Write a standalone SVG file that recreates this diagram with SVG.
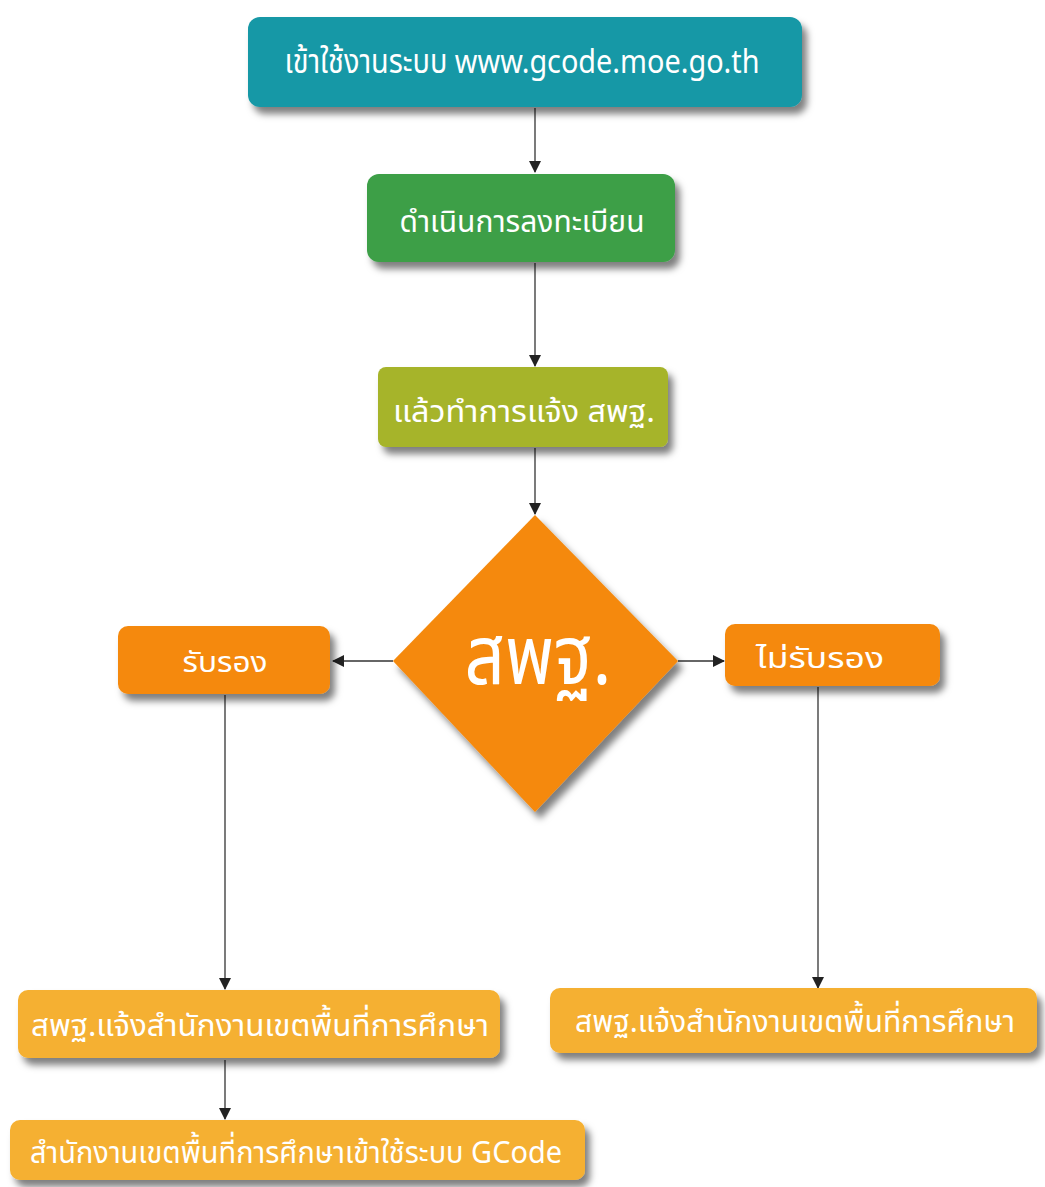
<svg xmlns="http://www.w3.org/2000/svg" width="1045" height="1187" viewBox="0 0 1045 1187">
<defs>
<filter id="sh" x="-10%" y="-20%" width="130%" height="160%">
<feDropShadow dx="5" dy="7" stdDeviation="3.5" flood-color="#000" flood-opacity="0.5"/>
</filter>
<marker id="ah" markerWidth="12" markerHeight="12" refX="11" refY="6" orient="auto" markerUnits="userSpaceOnUse" viewBox="0 0 12 12">
<path d="M0,0 L12,6 L0,12 Z" fill="#222"/>
</marker>
</defs>
<style>
.lbl{font-family:"Noto Sans Thai","Noto Sans","DejaVu Sans",sans-serif;fill:#fff;text-anchor:middle}
.conn{stroke:#333;stroke-width:1.3;fill:none;marker-end:url(#ah)}
</style>
<rect width="1045" height="1187" fill="#fff"/>
<g id="connectors">
<line class="conn" x1="535" y1="108" x2="535" y2="172"/>
<line class="conn" x1="535" y1="263" x2="535" y2="366"/>
<line class="conn" x1="535" y1="448" x2="535" y2="514"/>
<line class="conn" x1="393" y1="661" x2="333" y2="661"/>
<line class="conn" x1="678" y1="661" x2="724" y2="661"/>
<line class="conn" x1="225" y1="695" x2="225" y2="989"/>
<line class="conn" x1="818" y1="687" x2="818" y2="988"/>
<line class="conn" x1="225" y1="1060" x2="225" y2="1119"/>
</g>
<g id="n1">
<rect x="248" y="17" width="554" height="90" rx="12" fill="#1798a6" filter="url(#sh)"/>
<text class="lbl" x="522" y="73" font-size="33" textLength="475" lengthAdjust="spacingAndGlyphs">เข้าใช้งานระบบ www.gcode.moe.go.th</text>
</g>
<g id="n2">
<rect x="367" y="174" width="308" height="88" rx="12" fill="#3c9f47" filter="url(#sh)"/>
<text class="lbl" x="522" y="232" font-size="31" textLength="245" lengthAdjust="spacingAndGlyphs">ดำเนินการลงทะเบียน</text>
</g>
<g id="n3">
<rect x="378" y="367" width="290" height="80" rx="8" fill="#a6b42a" filter="url(#sh)"/>
<text class="lbl" x="524" y="422" font-size="31" textLength="262" lengthAdjust="spacingAndGlyphs">แล้วทำการแจ้ง สพฐ.</text>
</g>
<g id="decision">
<polygon points="535,515 678,661 535,812 393,661" fill="#f5890a" filter="url(#sh)"/>
<text class="lbl" x="538" y="684" font-size="82" textLength="147" lengthAdjust="spacingAndGlyphs">สพฐ.</text>
</g>
<g id="n4">
<rect x="118" y="626" width="212" height="68" rx="10" fill="#f5890a" filter="url(#sh)"/>
<text class="lbl" x="225" y="672" font-size="28" textLength="85" lengthAdjust="spacingAndGlyphs">รับรอง</text>
</g>
<g id="n5">
<rect x="725" y="624" width="215" height="62" rx="10" fill="#f5890a" filter="url(#sh)"/>
<text class="lbl" x="820" y="668" font-size="28" textLength="128" lengthAdjust="spacingAndGlyphs">ไม่รับรอง</text>
</g>
<g id="n6">
<rect x="18" y="990" width="482" height="68" rx="10" fill="#f5b030" filter="url(#sh)"/>
<text class="lbl" x="260" y="1036" font-size="31" textLength="458" lengthAdjust="spacingAndGlyphs">สพฐ.แจ้งสำนักงานเขตพื้นที่การศึกษา</text>
</g>
<g id="n7">
<rect x="550" y="988" width="487" height="65" rx="10" fill="#f5b030" filter="url(#sh)"/>
<text class="lbl" x="795" y="1032" font-size="31" textLength="440" lengthAdjust="spacingAndGlyphs">สพฐ.แจ้งสำนักงานเขตพื้นที่การศึกษา</text>
</g>
<g id="n8">
<rect x="10" y="1120" width="575" height="60" rx="10" fill="#f5b030" filter="url(#sh)"/>
<text class="lbl" x="296" y="1163" font-size="31" textLength="532" lengthAdjust="spacingAndGlyphs">สำนักงานเขตพื้นที่การศึกษาเข้าใช้ระบบ GCode</text>
</g>
</svg>
